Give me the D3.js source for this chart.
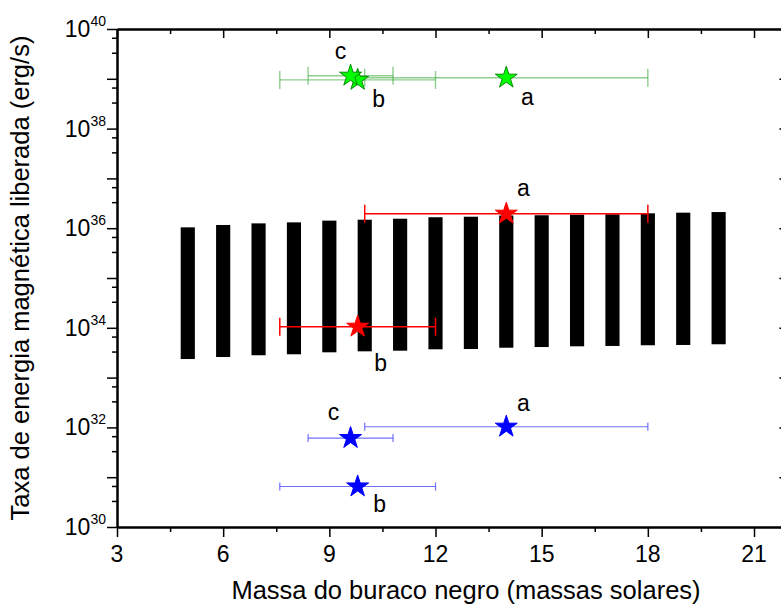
<!DOCTYPE html>
<html>
<head>
<meta charset="utf-8">
<script src="https://cdn.jsdelivr.net/npm/d3@7"></script>
<style>
  body { margin: 0; background: #fff; }
  svg { display: block; }
  text { font-family: "Liberation Sans", Arial, sans-serif; fill: #000; }
</style>
</head>
<body>
<svg id="chart" width="781" height="606"></svg>
<script>
// Predicted band of magnetic energy release vs. black-hole mass
const bandMass  = [5, 6, 7, 8, 9, 10, 11, 12, 13, 14, 15, 16, 17, 18, 19, 20];
const bandUpper = [1.04e36, 1.16e36, 1.25e36, 1.31e36, 1.42e36, 1.48e36, 1.55e36, 1.66e36,
                   1.70e36, 1.80e36, 1.82e36, 1.87e36, 1.90e36, 1.99e36, 2.05e36, 2.11e36];
const bandLower = [2.36e33, 2.59e33, 2.81e33, 2.94e33, 3.22e33, 3.37e33, 3.47e33, 3.70e33,
                   3.75e33, 3.98e33, 4.11e33, 4.25e33, 4.32e33, 4.46e33, 4.52e33, 4.67e33];
const bandHalfWidth = 0.2; // solar masses

// Observed sources (a, b, c) for the three emission regimes
const greenNames = ["a", "b", "c"];
const greenMass  = [14, 9.8, 9.6];
const greenMassErr = [4, 2.2, 1.2];
const greenRate  = [1.05e39, 9.5e38, 1.15e39];

const redNames = ["a", "b"];
const redMass  = [14, 9.8];
const redMassErr = [4, 2.2];
const redRate  = [1.95e36, 1.05e34];

const blueNames = ["a", "b", "c"];
const blueMass  = [14, 9.8, 9.6];
const blueMassErr = [4, 2.2, 1.2];
const blueRate  = [1.03e32, 6.5e30, 6.1e31];

// Axis ticks
const xTickValues = [3, 6, 9, 12, 15, 18, 21];
const xMinorValues = [4.5, 7.5, 10.5, 13.5, 16.5, 19.5];
const yDecades = [30, 31, 32, 33, 34, 35, 36, 37, 38, 39, 40];
const yLabelExponents = [30, 32, 34, 36, 38, 40];

const svg = d3.select("#chart");
const plotLeft = 117, plotTop = 29, plotRight = 789.4, plotBottom = 527;

const x = d3.scaleLinear().domain([3, 22]).range([plotLeft, plotRight]);
const y = d3.scaleLog().domain([1e30, 1e40]).range([plotBottom, plotTop]);

// Minor log ticks at 1/3 and 2/3 of each decade
const yMinor = [];
yDecades.slice(0, -1).forEach(e => {
  yMinor.push(Math.pow(10, e) * 10 / 3, Math.pow(10, e) * 20 / 3);
});
const yMajor = yDecades.map(e => Math.pow(10, e));

// ---- bars ----
svg.append("g").selectAll("rect")
  .data(bandMass.map((m, i) => ({ m, hi: bandUpper[i], lo: bandLower[i] })))
  .join("rect")
  .attr("x", d => x(d.m - bandHalfWidth))
  .attr("width", d => x(d.m + bandHalfWidth) - x(d.m - bandHalfWidth))
  .attr("y", d => y(d.hi))
  .attr("height", d => y(d.lo) - y(d.hi))
  .attr("fill", "#000");

// ---- error bars + stars ----
const starSym = d3.symbol().type(d3.symbolStar).size(150);

function series(names, mass, err, rate, style) {
  const pts = names.map((n, i) => ({ n, m: mass[i], e: err[i], r: rate[i] }));
  const g = svg.append("g");
  const eb = g.append("g")
    .attr("stroke", style.errColor)
    .attr("stroke-width", style.errWidth)
    .attr("stroke-opacity", style.errOpacity)
    .attr("fill", "none");
  pts.forEach(p => {
    const yy = y(p.r);
    eb.append("line").attr("x1", x(p.m - p.e)).attr("x2", x(p.m + p.e)).attr("y1", yy).attr("y2", yy);
    [p.m - p.e, p.m + p.e].forEach(v => {
      eb.append("line").attr("x1", x(v)).attr("x2", x(v))
        .attr("y1", yy - style.cap).attr("y2", yy + style.cap);
    });
  });
  g.append("g").selectAll("path")
    .data(pts)
    .join("path")
    .attr("d", starSym)
    .attr("transform", d => `translate(${x(d.m)},${y(d.r)})`)
    .attr("fill", style.fill)
    .attr("stroke", style.stroke)
    .attr("stroke-width", 1);
  g.append("g").selectAll("text")
    .data(pts)
    .join("text")
    .attr("x", d => x(d.m) + style.labels[d.n][0])
    .attr("y", d => y(d.r) + style.labels[d.n][1])
    .attr("text-anchor", "middle")
    .attr("font-size", 23)
    .text(d => d.n);
}

series(greenNames, greenMass, greenMassErr, greenRate, {
  errColor: "#1e9e1e", errWidth: 1.4, errOpacity: 0.5, cap: 9,
  fill: "#00ff00", stroke: "#068a06",
  labels: { a: [21, 27], b: [21, 27], c: [-10, -17] }
});
series(redNames, redMass, redMassErr, redRate, {
  errColor: "#ff0000", errWidth: 1.5, errOpacity: 1, cap: 9,
  fill: "#ff0000", stroke: "#ff0000",
  labels: { a: [17, -18], b: [23, 44] }
});
series(blueNames, blueMass, blueMassErr, blueRate, {
  errColor: "#6060ff", errWidth: 1.2, errOpacity: 0.9, cap: 4,
  fill: "#0000ff", stroke: "#0000ff",
  labels: { a: [17, -16], b: [22, 25], c: [-17, -18] }
});

// ---- axes ----
function styleAxis(g) {
  g.select(".domain").attr("stroke-width", 2).attr("stroke", "#000");
  g.selectAll(".tick line").attr("stroke-width", 1.5).attr("stroke", "#000");
  g.selectAll(".tick text").remove();
}

// bottom (outward ticks)
svg.append("g").attr("transform", `translate(0,${plotBottom})`)
  .call(d3.axisBottom(x).tickValues(xTickValues).tickSize(10).tickSizeOuter(0))
  .call(styleAxis);
svg.append("g").attr("transform", `translate(0,${plotBottom})`)
  .call(d3.axisBottom(x).tickValues(xMinorValues).tickSize(5).tickSizeOuter(0))
  .call(styleAxis);
// top (inward ticks)
svg.append("g").attr("transform", `translate(0,${plotTop})`)
  .call(d3.axisBottom(x).tickValues(xTickValues).tickSize(9).tickSizeOuter(0))
  .call(styleAxis);
svg.append("g").attr("transform", `translate(0,${plotTop})`)
  .call(d3.axisBottom(x).tickValues(xMinorValues).tickSize(5).tickSizeOuter(0))
  .call(styleAxis);
// left (outward ticks)
svg.append("g").attr("transform", `translate(${plotLeft},0)`)
  .call(d3.axisLeft(y).tickValues(yMajor).tickSize(10).tickSizeOuter(0))
  .call(styleAxis);
svg.append("g").attr("transform", `translate(${plotLeft},0)`)
  .call(d3.axisLeft(y).tickValues(yMinor).tickSize(5).tickSizeOuter(0))
  .call(styleAxis);
// right (inward ticks)
svg.append("g").attr("transform", `translate(${plotRight},0)`)
  .call(d3.axisLeft(y).tickValues(yMajor).tickSize(10).tickSizeOuter(0))
  .call(styleAxis);
svg.append("g").attr("transform", `translate(${plotRight},0)`)
  .call(d3.axisLeft(y).tickValues(yMinor).tickSize(5).tickSizeOuter(0))
  .call(styleAxis);

// x tick labels
svg.append("g").selectAll("text")
  .data(xTickValues)
  .join("text")
  .attr("x", d => x(d))
  .attr("y", plotBottom + 35)
  .attr("text-anchor", "middle")
  .attr("font-size", 23)
  .text(d => d);

// y tick labels as powers of ten
const yl = svg.append("g").selectAll("text")
  .data(yLabelExponents)
  .join("text")
  .attr("x", plotLeft - 11)
  .attr("y", d => y(Math.pow(10, d)) + 8)
  .attr("text-anchor", "end");
yl.append("tspan").attr("font-size", 23).text("10");
yl.append("tspan").attr("font-size", 14).attr("dy", -11).text(d => d);

// axis titles
svg.append("text")
  .attr("x", 466).attr("y", 599)
  .attr("text-anchor", "middle")
  .attr("font-size", 25.5)
  .text("Massa do buraco negro (massas solares)");

svg.append("text")
  .attr("transform", `translate(29,278) rotate(-90)`)
  .attr("text-anchor", "middle")
  .attr("font-size", 25.5)
  .text("Taxa de energia magnética liberada (erg/s)");
</script>
</body>
</html>
